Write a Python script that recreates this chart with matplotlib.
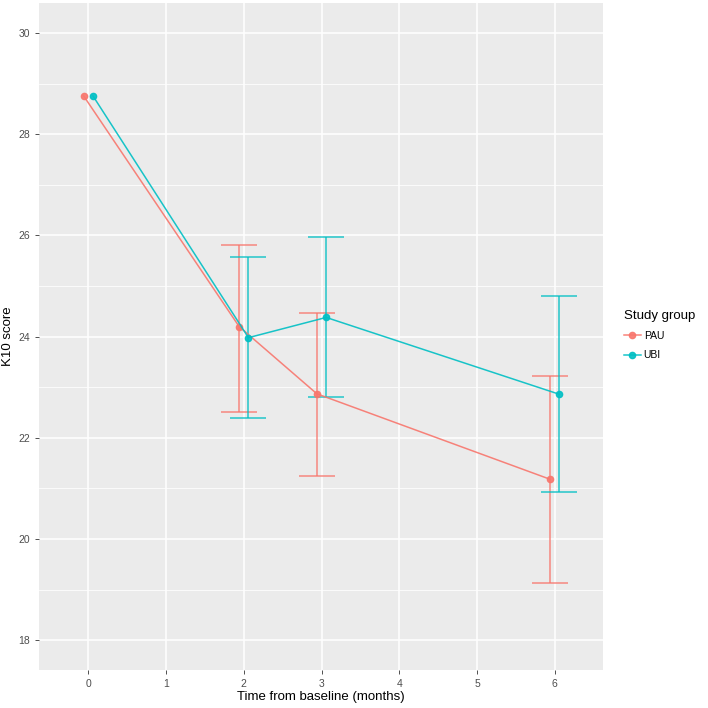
import matplotlib.pyplot as plt
from matplotlib.ticker import MultipleLocator

months = [0, 2, 3, 6]
groups = ["PAU", "UBI"]
colors = {"PAU": "#F8766D", "UBI": "#00BFC4"}
dodge = {"PAU": -0.06, "UBI": 0.06}

mean_k10 = {
    "PAU": [28.76, 24.20, 22.87, 21.18],
    "UBI": [28.76, 23.98, 24.38, 22.86],
}
lower_k10 = {
    "PAU": [28.76, 22.52, 21.24, 19.13],
    "UBI": [28.76, 22.39, 22.80, 20.93],
}
upper_k10 = {
    "PAU": [28.76, 25.81, 24.46, 23.22],
    "UBI": [28.76, 25.58, 25.97, 24.80],
}

plt.rcParams["font.family"] = ["Liberation Sans", "DejaVu Sans"]

fig = plt.figure(figsize=(7.08, 7.08), dpi=100)
ax = fig.add_axes([0.0555, 0.0537, 0.7962, 0.9416])
ax.set_facecolor("#EBEBEB")

for group in groups:
    xs = [m + dodge[group] for m in months]
    ys = mean_k10[group]
    # baseline has no spread, so only draw bars for follow-ups
    yerr_lo = [y - lo for y, lo in zip(ys[1:], lower_k10[group][1:])]
    yerr_hi = [hi - y for y, hi in zip(ys[1:], upper_k10[group][1:])]
    ax.errorbar(xs[1:], ys[1:], yerr=[yerr_lo, yerr_hi], fmt="none",
                ecolor=colors[group], elinewidth=1.1, capsize=12.9,
                capthick=1.1, alpha=0.85, zorder=3)
    ax.plot(xs, ys, color=colors[group], lw=1.1, marker="o", markersize=4.5,
            label=group, alpha=0.9, zorder=4)

ax.set_xlim(-0.63, 6.62)
ax.set_ylim(17.41, 30.59)
ax.set_xticks(range(0, 7))
ax.yaxis.set_major_locator(MultipleLocator(2))
ax.yaxis.set_minor_locator(MultipleLocator(1))
ax.grid(which="major", color="white", lw=1.1)
ax.grid(which="minor", axis="y", color="white", lw=0.55)
ax.set_axisbelow(True)
for spine in ax.spines.values():
    spine.set_visible(False)
ax.tick_params(which="major", colors="#333333", labelcolor="#4D4D4D",
               labelsize=7.5, length=3, width=0.6)
ax.tick_params(which="minor", length=0)

ax.set_xlabel("Time from baseline (months)", fontsize=9.5, labelpad=1.5)
ax.set_ylabel("K10 score", fontsize=9.5)
ax.yaxis.set_label_coords(-0.044, 0.5)

leg = ax.legend(title="Study group", loc="upper left",
                bbox_to_anchor=(0.868, 0.576), bbox_transform=fig.transFigure,
                frameon=False, fontsize=7.5, title_fontsize=9.5,
                handlelength=1.6, labelspacing=0.9, handletextpad=0.3)
leg._legend_box.align = "left"

fig.savefig("out.png", dpi=100)
